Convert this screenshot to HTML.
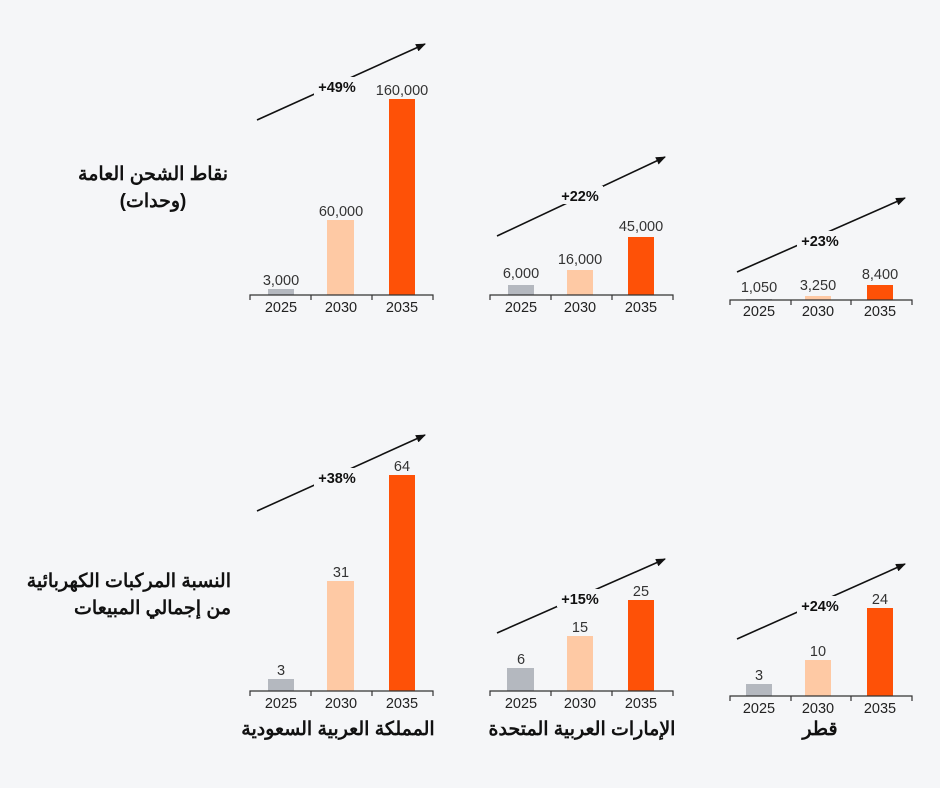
<!DOCTYPE html>
<html><head><meta charset="utf-8"><style>
html,body{margin:0;padding:0;background:#f5f6f8;}
svg{display:block;}
.v{font-family:"Liberation Sans",sans-serif;font-size:14.5px;fill:#333;text-anchor:middle;}
.y{font-family:"Liberation Sans",sans-serif;font-size:14.5px;fill:#222;text-anchor:middle;}
.p{font-family:"Liberation Sans",sans-serif;font-size:14.5px;font-weight:bold;fill:#111;text-anchor:middle;}
.a{font-family:"Liberation Sans","Noto Sans CJK SC",sans-serif;font-size:19px;font-weight:bold;fill:#111;}
</style></head><body>
<svg width="940" height="788" viewBox="0 0 940 788" xmlns="http://www.w3.org/2000/svg">
<defs><marker id="ar" markerWidth="10" markerHeight="8" refX="9" refY="4" orient="auto" markerUnits="userSpaceOnUse"><path d="M0,0 L10,4 L0,8 z" fill="#111"/></marker></defs>
<rect width="940" height="788" fill="#f5f6f8"/>

<g>
<line x1="257" y1="120" x2="425" y2="44" stroke="#111" stroke-width="1.6" marker-end="url(#ar)"/>
<rect x="314" y="77" width="46" height="18" fill="#f5f6f8"/><text class="p" x="337" y="92">+49%</text>
<rect x="268" y="289" width="26" height="6" fill="#b4b8bf"/>
<rect x="327" y="220" width="27" height="75" fill="#fec9a4"/>
<rect x="389" y="99" width="26" height="196" fill="#fe5107"/>
<text class="v" x="281" y="285">3,000</text><text class="v" x="341" y="216">60,000</text><text class="v" x="402" y="95">160,000</text>
<path d="M250,300V295H433V300M311,295V300M372,295V300" stroke="#333" fill="none" stroke-width="1.2"/>
<text class="y" x="281" y="312">2025</text><text class="y" x="341" y="312">2030</text><text class="y" x="402" y="312">2035</text>
</g>

<g>
<line x1="497" y1="236" x2="665" y2="157" stroke="#111" stroke-width="1.6" marker-end="url(#ar)"/>
<rect x="557" y="186" width="46" height="18" fill="#f5f6f8"/><text class="p" x="580" y="201">+22%</text>
<rect x="508" y="285" width="26" height="10" fill="#b4b8bf"/>
<rect x="567" y="270" width="26" height="25" fill="#fec9a4"/>
<rect x="628" y="237" width="26" height="58" fill="#fe5107"/>
<text class="v" x="521" y="278">6,000</text><text class="v" x="580" y="264">16,000</text><text class="v" x="641" y="231">45,000</text>
<path d="M490,300V295H673V300M551,295V300M612,295V300" stroke="#333" fill="none" stroke-width="1.2"/>
<text class="y" x="521" y="312">2025</text><text class="y" x="580" y="312">2030</text><text class="y" x="641" y="312">2035</text>
</g>

<g>
<line x1="737" y1="272" x2="905" y2="198" stroke="#111" stroke-width="1.6" marker-end="url(#ar)"/>
<rect x="797" y="231" width="46" height="18" fill="#f5f6f8"/><text class="p" x="820" y="246">+23%</text>
<rect x="746" y="299" width="26" height="1" fill="#b4b8bf"/>
<rect x="805" y="296" width="26" height="4" fill="#fec9a4"/>
<rect x="867" y="285" width="26" height="15" fill="#fe5107"/>
<text class="v" x="759" y="292">1,050</text><text class="v" x="818" y="290">3,250</text><text class="v" x="880" y="279">8,400</text>
<path d="M730,305V300H912V305M791,300V305M851,300V305" stroke="#333" fill="none" stroke-width="1.2"/>
<text class="y" x="759" y="316">2025</text><text class="y" x="818" y="316">2030</text><text class="y" x="880" y="316">2035</text>
</g>

<g>
<line x1="257" y1="511" x2="425" y2="435" stroke="#111" stroke-width="1.6" marker-end="url(#ar)"/>
<rect x="314" y="468" width="46" height="18" fill="#f5f6f8"/><text class="p" x="337" y="483">+38%</text>
<rect x="268" y="679" width="26" height="12" fill="#b4b8bf"/>
<rect x="327" y="581" width="27" height="110" fill="#fec9a4"/>
<rect x="389" y="475" width="26" height="216" fill="#fe5107"/>
<text class="v" x="281" y="675">3</text><text class="v" x="341" y="577">31</text><text class="v" x="402" y="471">64</text>
<path d="M250,696V691H433V696M311,691V696M372,691V696" stroke="#333" fill="none" stroke-width="1.2"/>
<text class="y" x="281" y="708">2025</text><text class="y" x="341" y="708">2030</text><text class="y" x="402" y="708">2035</text>
</g>

<g>
<line x1="497" y1="633" x2="665" y2="559" stroke="#111" stroke-width="1.6" marker-end="url(#ar)"/>
<rect x="557" y="589" width="46" height="18" fill="#f5f6f8"/><text class="p" x="580" y="604">+15%</text>
<rect x="507" y="668" width="27" height="23" fill="#b4b8bf"/>
<rect x="567" y="636" width="26" height="55" fill="#fec9a4"/>
<rect x="628" y="600" width="26" height="91" fill="#fe5107"/>
<text class="v" x="521" y="664">6</text><text class="v" x="580" y="632">15</text><text class="v" x="641" y="596">25</text>
<path d="M490,696V691H673V696M551,691V696M612,691V696" stroke="#333" fill="none" stroke-width="1.2"/>
<text class="y" x="521" y="708">2025</text><text class="y" x="580" y="708">2030</text><text class="y" x="641" y="708">2035</text>
</g>

<g>
<line x1="737" y1="639" x2="905" y2="564" stroke="#111" stroke-width="1.6" marker-end="url(#ar)"/>
<rect x="797" y="596" width="46" height="18" fill="#f5f6f8"/><text class="p" x="820" y="611">+24%</text>
<rect x="746" y="684" width="26" height="12" fill="#b4b8bf"/>
<rect x="805" y="660" width="26" height="36" fill="#fec9a4"/>
<rect x="867" y="608" width="26" height="88" fill="#fe5107"/>
<text class="v" x="759" y="680">3</text><text class="v" x="818" y="656">10</text><text class="v" x="880" y="604">24</text>
<path d="M730,701V696H912V701M791,696V701M851,696V701" stroke="#333" fill="none" stroke-width="1.2"/>
<text class="y" x="759" y="713">2025</text><text class="y" x="818" y="713">2030</text><text class="y" x="880" y="713">2035</text>
</g>

<text class="a" x="228" y="180" text-anchor="end">نقاط الشحن العامة</text>
<text class="a" x="153" y="207" text-anchor="middle">(وحدات)</text>
<text class="a" x="231" y="587" text-anchor="end">النسبة المركبات الكهربائية</text>
<text class="a" x="231" y="614" text-anchor="end">من إجمالي المبيعات</text>
<text class="a" x="338" y="735" text-anchor="middle">المملكة العربية السعودية</text>
<text class="a" x="582" y="735" text-anchor="middle">الإمارات العربية المتحدة</text>
<text class="a" x="820" y="735" text-anchor="middle">قطر</text>
</svg>
</body></html>
